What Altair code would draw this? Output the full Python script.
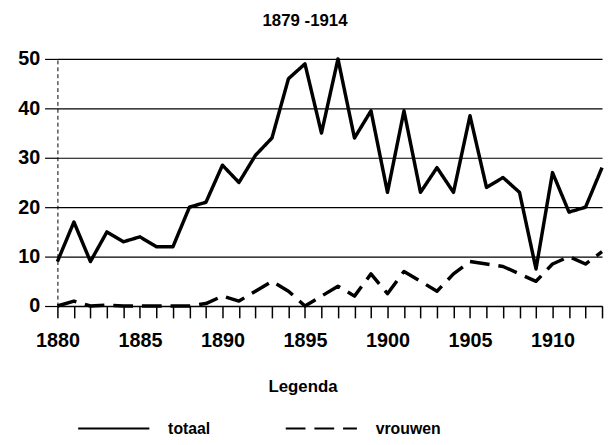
import altair as alt
import pandas as pd

years = list(range(1880, 1914))
totaal = [9, 17, 9, 15, 13, 14, 12, 12, 20, 21,
          28.5, 25, 30.5, 34, 46, 49, 35, 50, 34, 39.5,
          23, 39.5, 23, 28, 23, 38.5, 24, 26, 23, 7.5,
          27, 19, 20, 28]
vrouwen = [0, 1, 0, 0.2, 0, 0, 0, 0, 0, 0.5,
           2, 1, 3, 5, 3, 0, 2, 4, 2, 6.5,
           2.5, 7, 5, 3, 6.5, 9, 8.5, 8, 6.5, 5,
           8.5, 10, 8.5, 11]
series = ["totaal", "vrouwen"]
y_ticks = [0, 10, 20, 30, 40, 50]

rows = []
for name, vals in zip(series, [totaal, vrouwen]):
    for yr, v in zip(years, vals):
        rows.append({"jaar": yr, "waarde": v, "reeks": name})
df = pd.DataFrame(rows)

FONT = "Liberation Sans"

chart = alt.Chart(df).mark_line(strokeWidth=3.5, color="black", strokeJoin="round").encode(
    x=alt.X("jaar:Q",
            scale=alt.Scale(domain=[1880, 1913], nice=False, zero=False),
            axis=alt.Axis(values=years, format="d", title="Legenda",
                          titleFont=FONT, titleFontSize=17, titleFontWeight="bold",
                          titleColor="black", titleX=248, titleY=81,
                          titleAlign="center", titleBaseline="middle", titleAnchor="start",
                          labelExpr="datum.value % 5 == 0 ? datum.label : ''",
                          labelFlush=False, labelOverlap=False,
                          tickSize=12, tickColor="black", tickWidth=1.5,
                          domainColor="black", domainWidth=1.5,
                          labelFont=FONT, labelFontSize=20, labelFontWeight="bold",
                          labelColor="black", labelPadding=13, grid=False)),
    y=alt.Y("waarde:Q",
            scale=alt.Scale(domain=[0, 50], nice=False),
            axis=alt.Axis(values=y_ticks, title=None, grid=True,
                          gridColor="black", gridWidth=1.2, gridOpacity=1,
                          tickSize=13, tickColor="black", tickWidth=1.2,
                          domainColor="black", domainWidth=1, domainDash=[4, 3],
                          labelFont=FONT, labelFontSize=20, labelFontWeight="bold",
                          labelColor="black", labelPadding=5)),
    strokeDash=alt.StrokeDash(
        "reeks:N",
        scale=alt.Scale(domain=series, range=[[1, 0], [20, 9]]),
        legend=alt.Legend(title=None, orient="none", legendX=20, legendY=337,
                          direction="horizontal",
                          labelFont=FONT, labelFontSize=16, labelFontWeight="bold",
                          labelColor="black", labelOffset=18, columnPadding=72,
                          symbolType="stroke", symbolSize=5184, symbolStrokeWidth=2,
                          symbolStrokeColor="black")),
).properties(
    width=551, height=250,
    title=alt.TitleParams("1879 -1914", font=FONT, fontSize=17, fontWeight="bold",
                          color="black", anchor="middle", offset=19, dx=-25),
    autosize=alt.AutoSizeParams(type="none"),
    padding={"left": 50, "top": 49, "right": 2, "bottom": 130},
).configure_view(stroke=None)

chart.save("out.html", embed_options={"renderer": "svg", "actions": False})
